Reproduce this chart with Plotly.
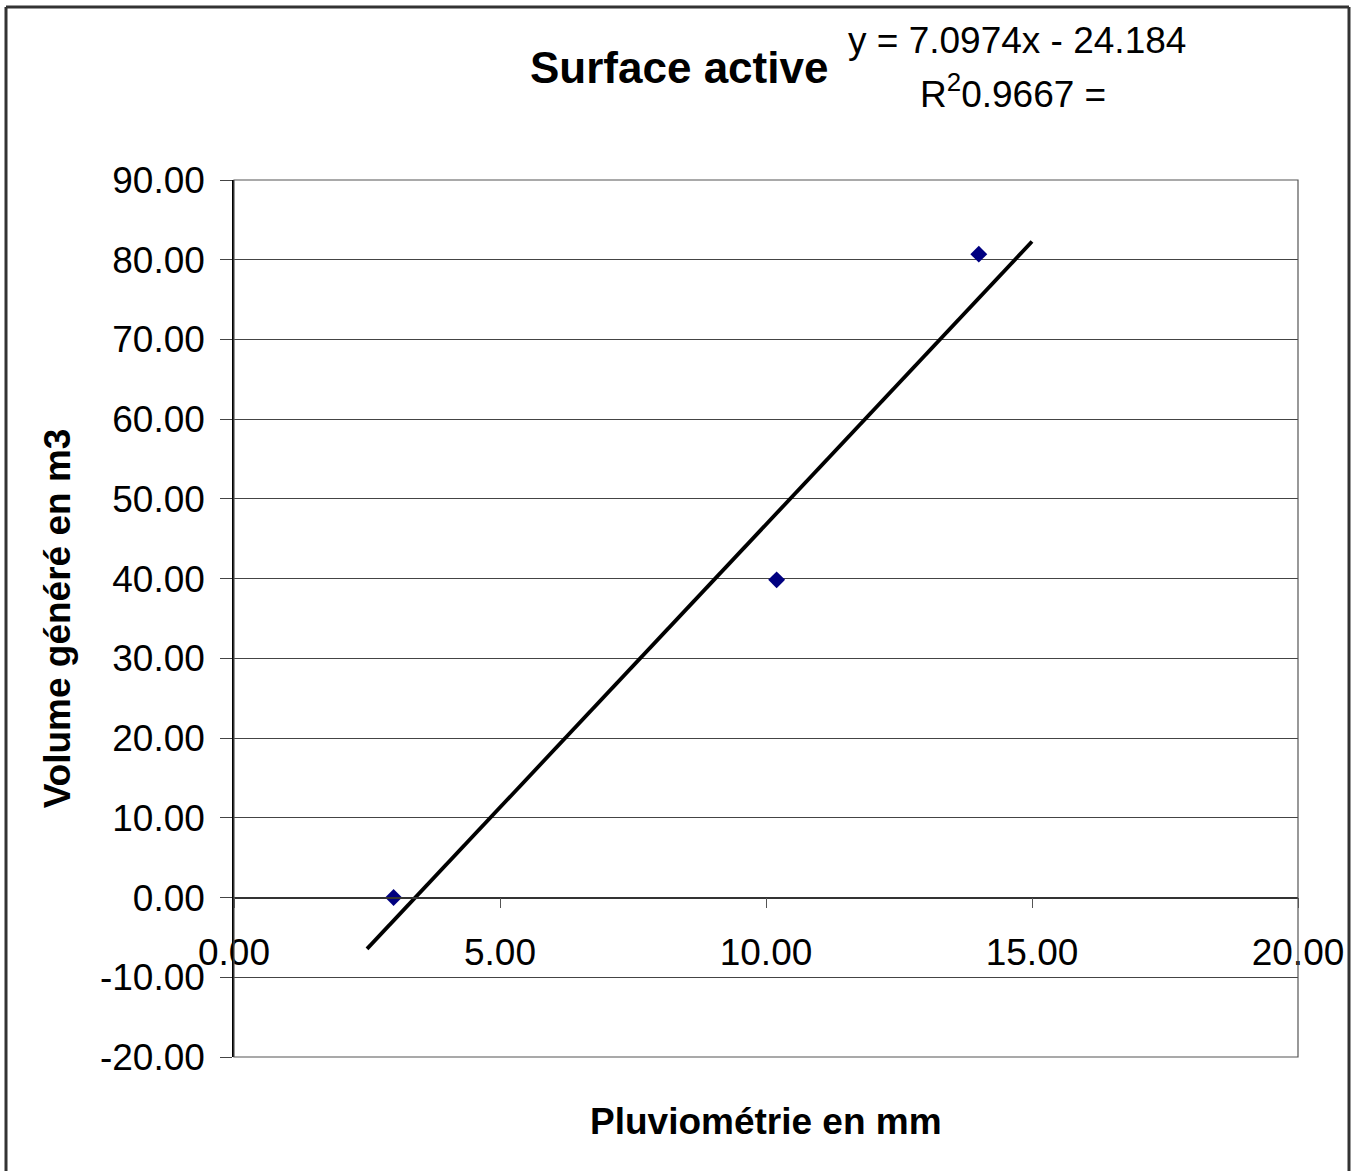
import plotly.graph_objects as go

# Data
pluvio = [3.0, 10.2, 14.0]
volume = [0.0, 39.85, 80.7]
slope = 7.0974
intercept = -24.184
trend_x = [2.5, 15.0]
trend_y = [slope * x + intercept for x in trend_x]

x_ticks = [0, 5, 10, 15, 20]
x_ticktext = ["0.00", "5.00", "10.00", "15.00", "20.00"]
y_ticks = [-20, -10, 0, 10, 20, 30, 40, 50, 60, 70, 80, 90]
y_ticktext = ["-20.00", "-10.00", "0.00", "10.00", "20.00", "30.00", "40.00",
              "50.00", "60.00", "70.00", "80.00", "90.00"]

FONT = "Liberation Sans, Arial, sans-serif"

fig = go.Figure()
fig.add_trace(go.Scatter(x=trend_x, y=trend_y, mode="lines",
                         line=dict(color="black", width=3.8), showlegend=False,
                         hoverinfo="skip"))
fig.add_trace(go.Scatter(x=pluvio, y=volume, mode="markers",
                         marker=dict(symbol="diamond", size=13, color="#000080"),
                         showlegend=False))

ymin, ymax = -20, 90
L, T, W, H = 234, 180, 1064, 877


def px(x):
    return (x - L) / W


def py(y):
    return (T + H - y) / H


fig.update_layout(
    width=1362, height=1171,
    margin=dict(l=L, r=1362 - L - W, t=T, b=1171 - T - H),
    paper_bgcolor="white", plot_bgcolor="white",
    font=dict(family=FONT, color="black"),
    xaxis=dict(range=[0, 20], tickvals=x_ticks, ticktext=x_ticktext,
               showgrid=False, zeroline=False,
               showline=True, linecolor="#333333", linewidth=1.5,
               ticks="outside", ticklen=10, tickcolor="#555555",
               anchor="free", position=(0 - ymin) / (ymax - ymin),
               tickfont=dict(size=37, family=FONT), ticklabelstandoff=12),
    yaxis=dict(range=[ymin, ymax], tickvals=y_ticks, ticktext=y_ticktext,
               showgrid=True, gridcolor="#444444", gridwidth=1,
               zeroline=False, showline=True, linecolor="black", linewidth=1.5,
               ticks="outside", ticklen=12, tickcolor="#444444",
               tickfont=dict(size=37, family=FONT), ticklabelstandoff=8,
               title=dict(text="<b>Volume généré en m3</b>",
                          font=dict(size=37, family=FONT), standoff=18)),
    shapes=[
        dict(type="rect", xref="paper", yref="paper", x0=0, x1=1, y0=0, y1=1,
             line=dict(color="#555555", width=1.2)),
        dict(type="line", xref="paper", yref="paper",
             x0=px(6), x1=px(6), y0=-0.2, y1=py(7),
             line=dict(color="#333333", width=3)),
        dict(type="line", xref="paper", yref="paper",
             x0=px(6), x1=px(1349), y0=py(7), y1=py(7),
             line=dict(color="#333333", width=3)),
        dict(type="line", xref="paper", yref="paper",
             x0=px(1349), x1=px(1349), y0=-0.2, y1=py(7),
             line=dict(color="#333333", width=3)),
    ],
    annotations=[
        dict(text="<b>Surface active</b>", xref="paper", yref="paper",
             x=px(679), y=py(68), showarrow=False,
             font=dict(size=44, family=FONT), xanchor="center", yanchor="middle"),
        dict(text="y = 7.0974x - 24.184", xref="paper", yref="paper",
             x=px(1017), y=py(40), showarrow=False,
             font=dict(size=37, family=FONT), xanchor="center", yanchor="middle"),
        dict(text="R<sup>2</sup>0.9667 =", xref="paper", yref="paper",
             x=px(1013), y=py(91), showarrow=False,
             font=dict(size=37, family=FONT), xanchor="center", yanchor="middle"),
        dict(text="<b>Pluviométrie en mm</b>", xref="paper", yref="paper",
             x=0.5, y=py(1121), showarrow=False,
             font=dict(size=37, family=FONT), xanchor="center", yanchor="middle"),
    ],
)

fig.write_html("out.html")
